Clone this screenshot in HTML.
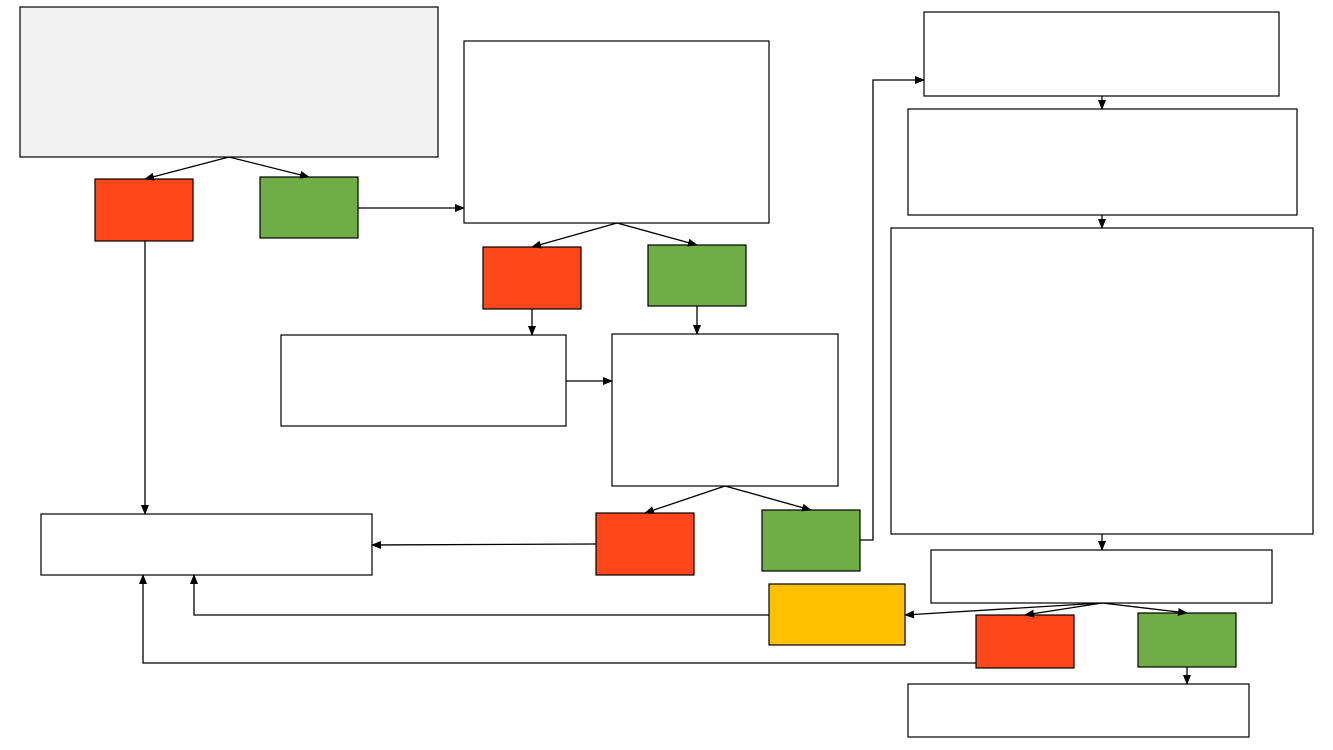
<!DOCTYPE html>
<html><head><meta charset="utf-8"><style>html,body{margin:0;padding:0;background:#fff}svg{display:block}</style></head>
<body>
<svg width="1333" height="750" viewBox="0 0 1333 750" xmlns="http://www.w3.org/2000/svg">
<defs><marker id="a" markerWidth="10" markerHeight="8" refX="9" refY="4" orient="auto" markerUnits="userSpaceOnUse"><path d="M0,0 L10,4 L0,8 z" fill="#000"/></marker></defs>
<g stroke="#000" stroke-width="1.2">
<rect x="20" y="7" width="418" height="150" fill="#f2f2f2"/>
<rect x="95" y="179" width="98" height="62" fill="#ff471a"/>
<rect x="260" y="177" width="98" height="61" fill="#70ad47"/>
<rect x="464" y="41" width="305" height="182" fill="#fff"/>
<rect x="483" y="247" width="98" height="62" fill="#ff471a"/>
<rect x="648" y="245" width="98" height="61" fill="#70ad47"/>
<rect x="281" y="335" width="285" height="91" fill="#fff"/>
<rect x="612" y="334" width="226" height="152" fill="#fff"/>
<rect x="596" y="513" width="98" height="62" fill="#ff471a"/>
<rect x="762" y="510" width="98" height="61" fill="#70ad47"/>
<rect x="41" y="514" width="331" height="61" fill="#fff"/>
<rect x="924" y="12" width="355" height="84" fill="#fff"/>
<rect x="908" y="109" width="389" height="106" fill="#fff"/>
<rect x="891" y="228" width="422" height="306" fill="#fff"/>
<rect x="931" y="550" width="341" height="53" fill="#fff"/>
<rect x="769" y="584" width="136" height="61" fill="#ffc000"/>
<rect x="976" y="615" width="98" height="53" fill="#ff471a"/>
<rect x="1138" y="613" width="98" height="54" fill="#70ad47"/>
<rect x="908" y="684" width="341" height="53" fill="#fff"/>
</g>
<g stroke="#000" stroke-width="1.3" fill="none" marker-end="url(#a)">
<line x1="229" y1="157" x2="145" y2="179"/>
<line x1="229" y1="157" x2="309" y2="177"/>
<line x1="358" y1="208" x2="464" y2="208"/>
<line x1="145" y1="241" x2="145" y2="514"/>
<line x1="617" y1="223" x2="532" y2="247"/>
<line x1="617" y1="223" x2="697" y2="245"/>
<line x1="532" y1="309" x2="532" y2="335"/>
<line x1="697" y1="306" x2="697" y2="334"/>
<line x1="566" y1="381" x2="612" y2="381"/>
<line x1="725" y1="486" x2="645" y2="513"/>
<line x1="725" y1="486" x2="811" y2="510"/>
<line x1="596" y1="544" x2="372" y2="545"/>
<polyline points="860,540 873,540 873,80 924,80"/>
<line x1="1102" y1="96" x2="1102" y2="109"/>
<line x1="1102" y1="215" x2="1102" y2="228"/>
<line x1="1102" y1="534" x2="1102" y2="550"/>
<line x1="1102" y1="603" x2="905" y2="615"/>
<line x1="1102" y1="603" x2="1025" y2="615"/>
<line x1="1102" y1="603" x2="1187" y2="613"/>
<line x1="1187" y1="667" x2="1187" y2="684"/>
<polyline points="769,615 194,615 194,575"/>
<polyline points="976,663 143,663 143,575"/>
</g>
</svg>
</body></html>
